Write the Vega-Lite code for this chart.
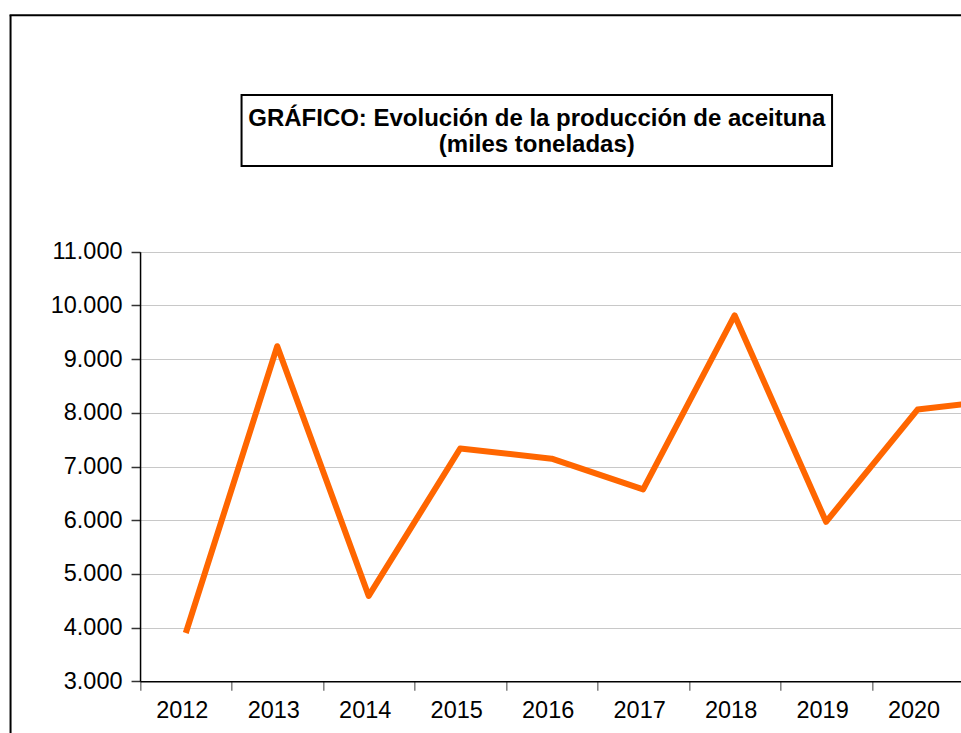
{
  "$schema": "https://vega.github.io/schema/vega-lite/v6.json",
  "padding": {"left": 9.3, "top": 14, "right": 0, "bottom": 0},
  "background": "white",
  "bounds": "flush",
  "spacing": 0,
  "config": {
    "locale": {"number": {"decimal": ",", "thousands": ".", "grouping": [3], "currency": ["", " €"]}},
    "font": "Liberation Sans"
  },
  "vconcat": [
    {
      "width": 1051,
      "height": 0.5,
      "view": {"stroke": "#000000", "strokeWidth": 1.5, "fill": null},
      "data": {"values": []},
      "mark": {"type": "text"},
      "encoding": {}
    },
    {
      "bounds": "flush",
      "spacing": 0,
      "hconcat": [
        {
          "width": 0.5,
          "height": 760,
          "view": {"stroke": "#000000", "strokeWidth": 1.5, "fill": null},
          "data": {"values": []},
          "mark": {"type": "text"},
          "encoding": {}
        },
        {
          "bounds": "flush",
          "spacing": 0,
          "center": true,
          "vconcat": [
            {
              "width": 1,
              "height": 78.75,
              "view": {"stroke": null, "fill": null},
              "data": {"values": []},
              "mark": {"type": "text"},
              "encoding": {}
            },
            {
              "width": 590.5,
              "height": 71,
              "view": {"stroke": "#000000", "strokeWidth": 2, "fill": null},
              "data": {"values": [{"titulo": "GRÁFICO: Evolución de la producción de aceituna\n(miles toneladas)"}]},
              "mark": {"type": "text", "font": "Liberation Sans", "fontSize": 24, "fontWeight": "bold", "lineBreak": "\n", "lineHeight": 27, "color": "#000000", "dy": -12},
              "encoding": {"text": {"field": "titulo", "type": "nominal"}}
            },
            {
              "width": 1051,
              "height": 600,
              "view": {"stroke": null, "fill": null},
              "data": {"values": [
                {"anio": "2012", "produccion": 3900},
                {"anio": "2013", "produccion": 9240},
                {"anio": "2014", "produccion": 4590},
                {"anio": "2015", "produccion": 7335},
                {"anio": "2016", "produccion": 7145},
                {"anio": "2017", "produccion": 6575},
                {"anio": "2018", "produccion": 9815},
                {"anio": "2019", "produccion": 5970},
                {"anio": "2020", "produccion": 8060},
                {"anio": "2021", "produccion": 8260}
              ]},
              "mark": {"type": "line", "color": "#FF6600", "strokeWidth": 6, "strokeJoin": "round", "strokeCap": "butt"},
              "encoding": {
                "x": {
                  "field": "anio",
                  "type": "ordinal",
                  "scale": {"type": "band", "range": [128.75, 1043.45], "paddingInner": 0, "paddingOuter": 0},
                  "axis": {
                    "orient": "bottom",
                    "offset": -84.7,
                    "title": null,
                    "grid": false,
                    "tickBand": "extent",
                    "labelAngle": 0,
                    "labelOffset": -4,
                    "labelExpr": "datum.value == '2021' ? '' : datum.label",
                    "labelFont": "Liberation Sans",
                    "labelFontSize": 23.5,
                    "labelColor": "#000000",
                    "labelPadding": 8,
                    "tickSize": 9,
                    "tickWidth": 1.5,
                    "tickColor": "#808080",
                    "domainColor": "#000000",
                    "domainWidth": 1.5
                  }
                },
                "y": {
                  "field": "produccion",
                  "type": "quantitative",
                  "scale": {"domain": [3000, 11000], "range": [515.3, 85.7], "zero": false, "nice": false},
                  "axis": {
                    "orient": "left",
                    "offset": -128.75,
                    "title": null,
                    "values": [3000, 4000, 5000, 6000, 7000, 8000, 9000, 10000, 11000],
                    "format": ",.0f",
                    "grid": true,
                    "gridColor": "#c8c8c8",
                    "gridWidth": 1.2,
                    "labelFont": "Liberation Sans",
                    "labelFontSize": 23.5,
                    "labelColor": "#000000",
                    "labelPadding": 9,
                    "tickSize": 9,
                    "tickWidth": 1.5,
                    "tickColor": "#333333",
                    "domainColor": "#000000",
                    "domainWidth": 1.5
                  }
                }
              }
            }
          ]
        }
      ]
    }
  ]
}
